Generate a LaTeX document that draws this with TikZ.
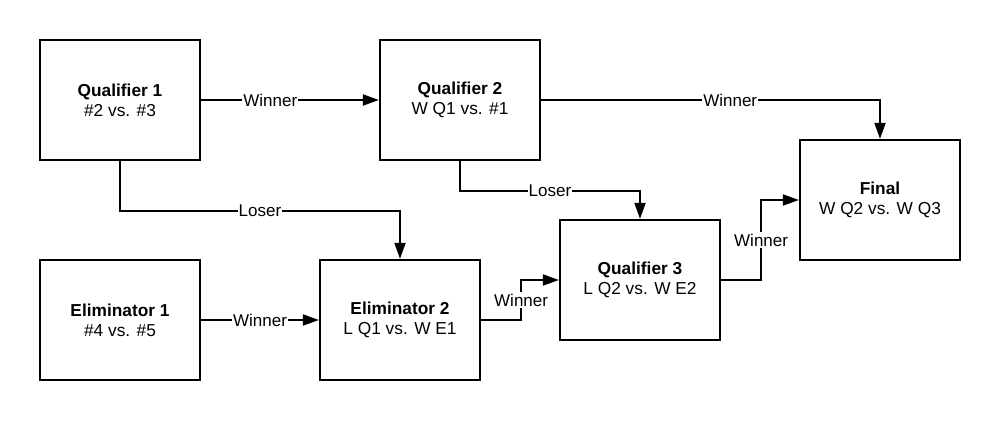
\documentclass[tikz,border=0pt]{standalone}
\usepackage{fontspec}
\setmainfont{Liberation Sans}
\usetikzlibrary{arrows.meta}
\begin{document}
\begin{tikzpicture}[x=1pt,y=1pt,
  box/.style={draw, line width=2.2pt, minimum width=160pt, minimum height=120pt, align=center, inner sep=0pt, font=\fontsize{17.3}{20}\selectfont},
  conn/.style={line width=2pt, -{Triangle[length=16pt,width=11pt]}},
  lbl/.style={fill=white, inner xsep=1pt, inner ysep=2pt, font=\fontsize{17}{20}\selectfont}]
\useasboundingbox[fill=white] (0,0) rectangle (1000,420);
\node[box] (q1) at (120,320) {\textbf{Qualifier 1}\\\#2 vs. \#3};
\node[box] (q2) at (460,320) {\textbf{Qualifier 2}\\W Q1 vs. \#1};
\node[box] (fin) at (880,220) {\textbf{Final}\\W Q2 vs. W Q3};
\node[box] (q3) at (640,140) {\textbf{Qualifier 3}\\L Q2 vs. W E2};
\node[box] (e1) at (120,100) {\textbf{Eliminator 1}\\\#4 vs. \#5};
\node[box] (e2) at (400,100) {\textbf{Eliminator 2}\\L Q1 vs. W E1};
\draw[conn] (q1.east) -- node[lbl, pos=0.389] {Winner} (q2.west);
\draw[conn] (q2.east) -| node[lbl, pos=0.279] {Winner} (fin.north);
\draw[conn] (q1.south) -- ++(0,-50) coordinate (c1) -| node[lbl, pos=0.25] {Loser} (e2.north);
\draw[conn] (q2.south) -- ++(0,-30) coordinate (c2) -| node[lbl, pos=0.25] {Loser} (q3.north);
\draw[conn] (e1.east) -- node[lbl, pos=0.5] {Winner} (e2.west);
\draw[conn] (e2.east) -- ++(40,0) coordinate (c3) |- node[lbl, pos=0.25] {Winner} (q3.west);
\draw[conn] (q3.east) -- ++(40,0) coordinate (c4) |- node[lbl, pos=0.25] {Winner} (fin.west);
\end{tikzpicture}
\end{document}
